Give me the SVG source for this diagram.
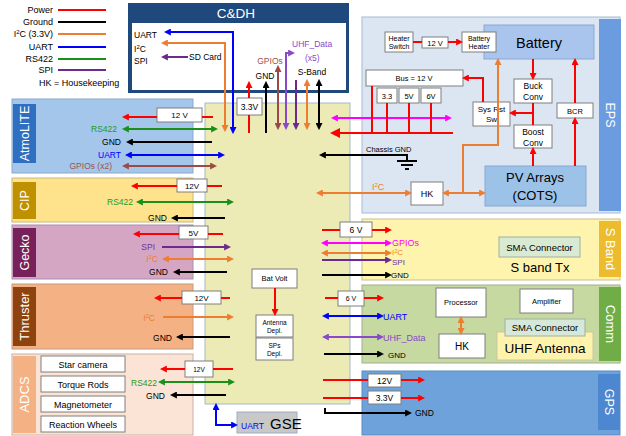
<svg xmlns="http://www.w3.org/2000/svg" width="626" height="436" viewBox="0 0 626 436">
<style>
text{font-family:"Liberation Sans",Arial,sans-serif;fill:#000}
.t9{font-size:9px}.t85{font-size:8.5px}.t8{font-size:8px}.t75{font-size:7.5px}.t7{font-size:7px}.t65{font-size:6.5px}
.m{text-anchor:middle}.e{text-anchor:end}
.bar{fill:#fff;font-size:12.5px;text-anchor:middle;dominant-baseline:central}
.box{fill:#fff;stroke:#7f7f7f;stroke-width:1}
.ln{fill:none;stroke-width:2}
.r{stroke:#FF0000}.k{stroke:#000}.o{stroke:#ED7D31}.b{stroke:#0000FF}.g{stroke:#1A8F1A}.p{stroke:#6B2A8C}.u{stroke:#8A4AC8}.br{stroke:#9B4A48}.mg{stroke:#FF00FF}
.cg{fill:#1F9A1F}.cb{fill:#0000FF}.cbr{fill:#A0524D}.cp{fill:#7030A0}.co{fill:#ED7D31}.cu{fill:#8A4AC8}.cm{fill:#FF00FF}
</style>
<defs>
<marker id="ar" viewBox="0 0 10 10" refX="7" refY="5" markerWidth="7" markerHeight="7" markerUnits="userSpaceOnUse" orient="auto-start-reverse"><path d="M0,0L10,5L0,10z" fill="#FF0000"/></marker>
<marker id="ak" viewBox="0 0 10 10" refX="7" refY="5" markerWidth="7" markerHeight="7" markerUnits="userSpaceOnUse" orient="auto-start-reverse"><path d="M0,0L10,5L0,10z" fill="#000"/></marker>
<marker id="ao" viewBox="0 0 10 10" refX="7" refY="5" markerWidth="7" markerHeight="7" markerUnits="userSpaceOnUse" orient="auto-start-reverse"><path d="M0,0L10,5L0,10z" fill="#ED7D31"/></marker>
<marker id="ab" viewBox="0 0 10 10" refX="7" refY="5" markerWidth="7" markerHeight="7" markerUnits="userSpaceOnUse" orient="auto-start-reverse"><path d="M0,0L10,5L0,10z" fill="#0000FF"/></marker>
<marker id="ag" viewBox="0 0 10 10" refX="7" refY="5" markerWidth="7" markerHeight="7" markerUnits="userSpaceOnUse" orient="auto-start-reverse"><path d="M0,0L10,5L0,10z" fill="#1A8F1A"/></marker>
<marker id="ap" viewBox="0 0 10 10" refX="7" refY="5" markerWidth="7" markerHeight="7" markerUnits="userSpaceOnUse" orient="auto-start-reverse"><path d="M0,0L10,5L0,10z" fill="#6B2A8C"/></marker>
<marker id="au" viewBox="0 0 10 10" refX="7" refY="5" markerWidth="7" markerHeight="7" markerUnits="userSpaceOnUse" orient="auto-start-reverse"><path d="M0,0L10,5L0,10z" fill="#8A4AC8"/></marker>
<marker id="abr" viewBox="0 0 10 10" refX="7" refY="5" markerWidth="7" markerHeight="7" markerUnits="userSpaceOnUse" orient="auto-start-reverse"><path d="M0,0L10,5L0,10z" fill="#9B4A48"/></marker>
<marker id="am" viewBox="0 0 10 10" refX="7" refY="5" markerWidth="7" markerHeight="7" markerUnits="userSpaceOnUse" orient="auto-start-reverse"><path d="M0,0L10,5L0,10z" fill="#FF00FF"/></marker>
<marker id="arb" viewBox="0 0 10 10" refX="7" refY="5" markerWidth="10" markerHeight="10" markerUnits="userSpaceOnUse" orient="auto-start-reverse"><path d="M0,0L10,5L0,10z" fill="#FF0000"/></marker>
</defs>
<rect width="626" height="436" fill="#fff"/>

<g id="legend">
<text class="t9 e" x="53" y="13">Power</text>
<text class="t9 e" x="53" y="25">Ground</text>
<text class="t9 e" x="53" y="37">I<tspan dy="-3" font-size="6">2</tspan><tspan dy="3">C (3.3V)</tspan></text>
<text class="t9 e" x="53" y="50">UART</text>
<text class="t9 e" x="53" y="62">RS422</text>
<text class="t9 e" x="53" y="73">SPI</text>
<text class="t9" x="39" y="86">HK = Housekeeping</text>
<path class="ln r" d="M58,10H106" stroke-width="2.5"/>
<path class="ln k" d="M58,22H106" stroke-width="2.5"/>
<path class="ln o" d="M58,34H106" stroke-width="2.5"/>
<path class="ln b" d="M58,47H106" stroke-width="2.5"/>
<path class="ln g" d="M58,59H106" stroke-width="2.5"/>
<path class="ln p" d="M58,70H106" stroke-width="2.5"/>
</g>

<g id="bus">
<rect x="205" y="103" width="145" height="301" fill="#ECEAB5" stroke="#A7B7C7"/>
</g>

<g id="cdh">
<rect x="128" y="3" width="221" height="90" fill="#1F497D"/>
<rect x="132" y="23" width="214" height="67" fill="#fff"/>
<text x="236" y="18" class="m" style="fill:#fff;font-size:13.5px">C&amp;DH</text>
<text class="t85" x="134" y="38">UART</text>
<text class="t85" x="134" y="52">I<tspan dy="-3" font-size="6">2</tspan><tspan dy="3">C</tspan></text>
<text class="t85" x="134" y="64">SPI</text>
<text class="t85" x="189" y="60">SD Card</text>
<text class="t85 m cbr" x="270" y="64">GPIOs</text>
<text class="t85 cu" x="292" y="47">UHF_Data</text>
<text class="t85 cu" x="305" y="61">(x5)</text>
<text class="t85 m" x="265" y="79">GND</text>
<text class="t85 m" x="312" y="75">S-Band</text>
</g>

<g id="eps">
<rect x="362" y="17" width="258" height="196" fill="#DCE6F2" stroke="#A5BBD6"/>
<rect x="599" y="19" width="22" height="192" fill="#6C9CE0"/>
<text class="bar" transform="translate(610,115) rotate(90)">EPS</text>
<rect x="484" y="25" width="110" height="34" fill="#A9C5EE" stroke="#8AA8D0"/>
<text x="539" y="48" class="m" style="font-size:14.5px">Battery</text>
<rect class="box" x="385" y="32" width="28" height="20"/>
<text class="t7 m" x="399" y="41">Heater</text><text class="t7 m" x="399" y="49">Switch</text>
<rect class="box" x="422" y="37" width="26" height="11"/>
<text class="t75 m" x="435" y="45.5">12 V</text>
<rect class="box" x="462" y="32" width="34" height="20"/>
<text class="t7 m" x="479" y="41">Battery</text><text class="t7 m" x="479" y="49">Heater</text>
<rect class="box" x="366" y="70" width="97" height="16"/>
<text class="t75 m" x="414" y="81">Bus = 12 V</text>
<rect class="box" x="377" y="88" width="20" height="15"/><text class="t75 m" x="387" y="98.5">3.3</text>
<rect class="box" x="399" y="88" width="20" height="15"/><text class="t75 m" x="409" y="98.5">5V</text>
<rect class="box" x="421" y="88" width="20" height="15"/><text class="t75 m" x="431" y="98.5">6V</text>
<rect class="box" x="473" y="102" width="37" height="24"/>
<text class="t8 m" x="491.5" y="112">Sys Rst</text><text class="t8 m" x="491.5" y="122">Sw</text>
<rect class="box" x="514" y="79" width="38" height="24"/>
<text class="t85 m" x="533" y="89">Buck</text><text class="t85 m" x="533" y="100">Conv</text>
<rect class="box" x="514" y="125" width="38" height="23"/>
<text class="t85 m" x="533" y="135">Boost</text><text class="t85 m" x="533" y="146">Conv</text>
<rect class="box" x="557" y="103" width="36" height="15"/>
<text class="t75 m" x="575" y="113.5">BCR</text>
<text class="t75" x="366" y="152">Chassis GND</text>
<text class="t9 co" x="372" y="190">I<tspan dy="-3" font-size="6">2</tspan><tspan dy="3">C</tspan></text>
<rect class="box" x="411" y="182" width="32" height="23"/>
<text class="t9 m" x="427" y="197">HK</text>
<rect x="485" y="166" width="101" height="40" fill="#9CC2E8" stroke="#86A8D0"/>
<text x="535" y="182" class="m" style="font-size:13px">PV Arrays</text>
<text x="535" y="200" class="m" style="font-size:13px">(COTS)</text>
</g>

<g id="atmolite">
<rect x="12" y="99" width="181" height="74" fill="#A4C6EA" stroke="#8AA8CC"/>
<rect x="13" y="104" width="23" height="59" fill="#2F6EC0"/>
<text class="bar" transform="translate(24.5,133.5) rotate(-90)">AtmoLITE</text>
<rect class="box" x="157" y="108" width="45" height="14"/>
<text class="t8 m" x="179.5" y="118">12 V</text>
<text class="t85 e cg" x="117" y="132">RS422</text>
<text class="t85 e" x="121" y="145">GND</text>
<text class="t85 e cb" x="121" y="158">UART</text>
<text class="t85 e cbr" x="112" y="168.5">GPIOs (x2)</text>
</g>

<g id="cip">
<rect x="12" y="178" width="181" height="44" fill="#FFE38C" stroke="#C8B878"/>
<rect x="13" y="182" width="23" height="37" fill="#BF9000"/>
<text class="bar" transform="translate(24.5,200.5) rotate(-90)">CIP</text>
<rect class="box" x="177" y="179" width="30" height="13"/>
<text class="t8 m" x="192" y="188.5">12V</text>
<text class="t85 e cg" x="133" y="205">RS422</text>
<text class="t85 e" x="167" y="221">GND</text>
</g>

<g id="gecko">
<rect x="12" y="225" width="181" height="54" fill="#D5A6C4" stroke="#A890B0"/>
<rect x="13" y="228" width="23" height="49" fill="#78205A"/>
<text class="bar" transform="translate(24.5,252.5) rotate(-90)">Gecko</text>
<rect class="box" x="179" y="226" width="29" height="13"/>
<text class="t8 m" x="193.5" y="235.5">5V</text>
<text class="t85 e cp" x="155" y="250">SPI</text>
<text class="t85 e co" x="158" y="262">I<tspan dy="-3" font-size="6">2</tspan><tspan dy="3">C</tspan></text>
<text class="t85 e" x="168" y="275">GND</text>
</g>

<g id="thruster">
<rect x="12" y="284" width="181" height="65" fill="#F4B183" stroke="#C89A80"/>
<rect x="13" y="287" width="23" height="59" fill="#8E420E"/>
<text class="bar" transform="translate(24.5,316.5) rotate(-90)" style="font-size:13px">Thruster</text>
<rect class="box" x="182" y="291" width="39" height="13"/>
<text class="t8 m" x="201.5" y="300.5">12V</text>
<text class="t85 e co" x="155" y="321">I<tspan dy="-3" font-size="6">2</tspan><tspan dy="3">C</tspan></text>
<text class="t85 e" x="172" y="341">GND</text>
</g>

<g id="adcs">
<rect x="12" y="354" width="181" height="81" fill="#FBE4D5" stroke="#C8B0A8"/>
<rect x="13" y="356" width="23" height="77" fill="#F4B183"/>
<text class="bar" transform="translate(24.5,394.5) rotate(-90)" style="font-size:13px">ADCS</text>
<rect class="box" x="41" y="356" width="84" height="16"/><text class="t9 m" x="83" y="367.5">Star camera</text>
<rect class="box" x="41" y="376" width="84" height="16"/><text class="t9 m" x="83" y="387.5">Torque Rods</text>
<rect class="box" x="41" y="396" width="84" height="16"/><text class="t9 m" x="83" y="407.5">Magnetometer</text>
<rect class="box" x="41" y="416" width="84" height="16"/><text class="t9 m" x="83" y="427.5">Reaction Wheels</text>
<rect class="box" x="185" y="361" width="28" height="16"/>
<text class="t65 m" x="199" y="371.5">12V</text>
<text class="t85 e cg" x="157" y="386">RS422</text>
<text class="t85 e" x="165" y="399">GND</text>
</g>

<g id="sband">
<rect x="362" y="219" width="258" height="61" fill="#FFF4AE" stroke="#C8C090"/>
<rect x="599" y="221" width="22" height="56" fill="#EDBB2E"/>
<text class="bar" transform="translate(610,249) rotate(90)" style="font-size:13px">S Band</text>
<rect x="499" y="237" width="81" height="20" fill="#D9EAD3" stroke="#A0B0A0"/>
<text class="m" x="539.5" y="250.5" style="font-size:9.5px">SMA Connector</text>
<text class="m" x="540" y="272" style="font-size:13px">S band Tx</text>
<rect class="box" x="340" y="222" width="32" height="15"/>
<text class="t85 m" x="356" y="232.5">6 V</text>
<text class="t9 cm" x="392" y="246">GPIOs</text>
<text class="co" x="392" y="255" style="font-size:8px">I<tspan dy="-2.5" font-size="5.5">2</tspan><tspan dy="2.5">C</tspan></text>
<text class="cp" x="392" y="264.5" style="font-size:8px">SPI</text>
<text class="t8" x="391" y="278">GND</text>
</g>

<g id="comm">
<rect x="362" y="285" width="258" height="78" fill="#C5D9A0" stroke="#A0B090"/>
<rect x="599" y="287" width="22" height="74" fill="#70AD47"/>
<text class="bar" transform="translate(610,324) rotate(90)" style="font-size:13px">Comm</text>
<rect class="box" x="338" y="291" width="26" height="15"/>
<text class="t7 m" x="351" y="301">6 V</text>
<text class="t9 cb" x="383" y="319.5">UART</text>
<text class="t9 cu" x="383" y="340.5">UHF_Data</text>
<text class="t8" x="388" y="358">GND</text>
<rect class="box" x="436" y="288" width="50" height="29"/>
<text class="t75 m" x="461" y="305">Processor</text>
<rect class="box" x="439" y="334" width="46" height="24"/>
<text class="m" x="462" y="349.5" style="font-size:10px">HK</text>
<rect class="box" x="520" y="289" width="53" height="24"/>
<text class="t75 m" x="546.5" y="303.5">Amplifier</text>
<rect x="497" y="332" width="96" height="28" fill="#FFF2AB" stroke="#C9C9A0"/>
<text class="m" x="545" y="353" style="font-size:13.5px">UHF Antenna</text>
<rect x="505" y="319" width="80" height="17" fill="#D5E8DA" stroke="#A0B0A0"/>
<text class="m" x="545" y="331" style="font-size:9.5px">SMA Connector</text>
</g>

<g id="gps">
<rect x="362" y="371" width="258" height="64" fill="#6DA2DB" stroke="#5A8CC0"/>
<rect x="598" y="374" width="22" height="56" fill="#4C87D0"/>
<text class="bar" transform="translate(609,402) rotate(90)">GPS</text>
<rect class="box" x="368" y="374" width="33" height="13"/>
<text class="t85 m" x="384.5" y="383.5">12V</text>
<rect class="box" x="368" y="391" width="33" height="13"/>
<text class="t85 m" x="384.5" y="400.5">3.3V</text>
<text class="t85" x="415" y="416">GND</text>
</g>

<g id="center">
<rect class="box" x="237" y="98" width="25" height="17"/>
<text class="t85 m" x="249.5" y="109.5">3.3V</text>
<rect class="box" x="252" y="269" width="45" height="19"/>
<text class="t75 m" x="274.5" y="281">Bat Volt</text>
<rect class="box" x="256" y="315" width="37" height="22"/>
<text class="t65 m" x="274.5" y="325">Antenna</text><text class="t65 m" x="274.5" y="333">Depl.</text>
<rect class="box" x="256" y="338" width="37" height="22"/>
<text class="t65 m" x="274.5" y="348">SPs</text><text class="t65 m" x="274.5" y="356">Depl.</text>
</g>

<g id="gse">
<rect x="237" y="412" width="60" height="21" fill="#C8C8C8" stroke="#9BB0C8"/>
<text class="t85 cb" x="241" y="429">UART</text>
<text x="270" y="429" style="font-size:15px">GSE</text>
</g>

<g id="connectors">
<path class="ln b" d="M233,132V32H166" marker-start="url(#ab)" marker-end="url(#ab)"/>
<path class="ln o" d="M225,130V43H163" marker-start="url(#ao)" marker-end="url(#ao)"/>
<path class="ln p" d="M188,57H163" marker-end="url(#ap)"/>
<path class="ln r" d="M249,115V133"/>
<path class="ln r" d="M249,98V83" marker-end="url(#ar)"/>
<path class="ln k" d="M266,133V83" marker-end="url(#ak)"/>
<path class="ln br" d="M278,128V67" marker-start="url(#abr)" marker-end="url(#abr)"/>
<path class="ln u" d="M286,128V53H293" marker-start="url(#au)" marker-end="url(#au)"/>
<path class="ln p" d="M296,80V128" marker-end="url(#ap)"/>
<path class="ln o" d="M307,81V128" marker-start="url(#ao)" marker-end="url(#ao)"/>
<path class="ln k" d="M319,81V128" marker-start="url(#ak)" marker-end="url(#ak)"/>
<path class="ln mg" d="M333,118H450" marker-start="url(#am)" marker-end="url(#am)"/>
<path class="ln r" d="M453,133H333" stroke-width="3.5" marker-end="url(#arb)"/>
<path class="ln r" d="M372,86V133M387,103V133M409,103V133M431,103V133"/>
<path class="ln r" d="M483,102V78H464" marker-end="url(#ar)"/>
<path class="ln r" d="M413,42H422"/>
<path class="ln r" d="M448,42H461" marker-end="url(#ar)"/>
<path class="ln r" d="M533,59V78" marker-end="url(#ar)"/>
<path class="ln r" d="M533,103V125"/>
<path class="ln r" d="M533,113H511" marker-end="url(#ar)"/>
<path class="ln r" d="M533,166V149" marker-end="url(#ar)"/>
<path class="ln r" d="M575,166V119" marker-end="url(#ar)"/>
<path class="ln r" d="M575,103V60" marker-end="url(#ar)"/>
<path class="ln k" d="M407,161V155H321" stroke-width="1.5" marker-end="url(#ak)"/>
<path class="ln k" d="M397,161H417M401,165H413M405,169H409" stroke-width="1.5"/>
<path class="ln o" d="M318,193H410" marker-start="url(#ao)" marker-end="url(#ao)"/>
<path class="ln o" d="M444,193H484" marker-start="url(#ao)" marker-end="url(#ao)"/>
<path class="ln o" d="M463,193V145H498V60" marker-end="url(#ao)"/>
<path class="ln r" d="M157,117H124" marker-end="url(#ar)"/>
<path class="ln r" d="M202,117H213"/>
<path class="ln g" d="M124,129H216" marker-start="url(#ag)" marker-end="url(#ag)"/>
<path class="ln k" d="M212,142H128" marker-end="url(#ak)"/>
<path class="ln b" d="M127,155H223" marker-start="url(#ab)" marker-end="url(#ab)"/>
<path class="ln br" d="M124,166H215" marker-start="url(#abr)" marker-end="url(#abr)"/>
<path class="ln r" d="M177,186H133" marker-end="url(#ar)"/>
<path class="ln r" d="M207,186H222"/>
<path class="ln g" d="M138,202H232" marker-start="url(#ag)" marker-end="url(#ag)"/>
<path class="ln k" d="M225,218H173" marker-end="url(#ak)"/>
<path class="ln r" d="M179,234H135" marker-end="url(#ar)"/>
<path class="ln r" d="M208,234H223"/>
<path class="ln p" d="M162,247H229" marker-end="url(#ap)"/>
<path class="ln o" d="M164,259H232" marker-start="url(#ao)" marker-end="url(#ao)"/>
<path class="ln k" d="M227,272H175" marker-end="url(#ak)"/>
<path class="ln r" d="M182,298H156" marker-end="url(#ar)"/>
<path class="ln r" d="M221,298H230"/>
<path class="ln o" d="M163,317H232" marker-end="url(#ao)"/>
<path class="ln k" d="M230,337H178" marker-end="url(#ak)"/>
<path class="ln r" d="M185,369H162" marker-end="url(#ar)"/>
<path class="ln r" d="M213,369H233"/>
<path class="ln g" d="M160,382H233" marker-start="url(#ag)" marker-end="url(#ag)"/>
<path class="ln k" d="M226,395H172" marker-end="url(#ak)"/>
<path class="ln b" d="M216,405V425H236" marker-start="url(#ab)" marker-end="url(#ab)"/>
<path class="ln r" d="M275,288V314" marker-end="url(#ar)"/>
<path class="ln r" d="M322,230H340"/>
<path class="ln r" d="M372,230H390" marker-end="url(#ar)"/>
<path class="ln mg" d="M323,243H390" marker-start="url(#am)" marker-end="url(#am)"/>
<path class="ln o" d="M323,253H390" marker-start="url(#ao)" marker-end="url(#ao)"/>
<path class="ln p" d="M322,260H390" marker-end="url(#ap)"/>
<path class="ln k" d="M322,275H390" marker-end="url(#ak)"/>
<path class="ln r" d="M325,298H338"/>
<path class="ln r" d="M364,298H382" marker-end="url(#ar)"/>
<path class="ln b" d="M324,316H382" marker-start="url(#ab)" marker-end="url(#ab)"/>
<path class="ln u" d="M324,337H382" marker-start="url(#au)" marker-end="url(#au)"/>
<path class="ln k" d="M324,354H382" marker-end="url(#ak)"/>
<path class="ln o" d="M461,318V333" marker-start="url(#ao)" marker-end="url(#ao)"/>
<path class="ln r" d="M323,380H368M323,398H368"/>
<path class="ln r" d="M401,380H423" marker-end="url(#ar)"/>
<path class="ln r" d="M401,398H423" marker-end="url(#ar)"/>
<path class="ln k" d="M325,408V413H410" marker-end="url(#ak)"/>
</g>
</svg>
